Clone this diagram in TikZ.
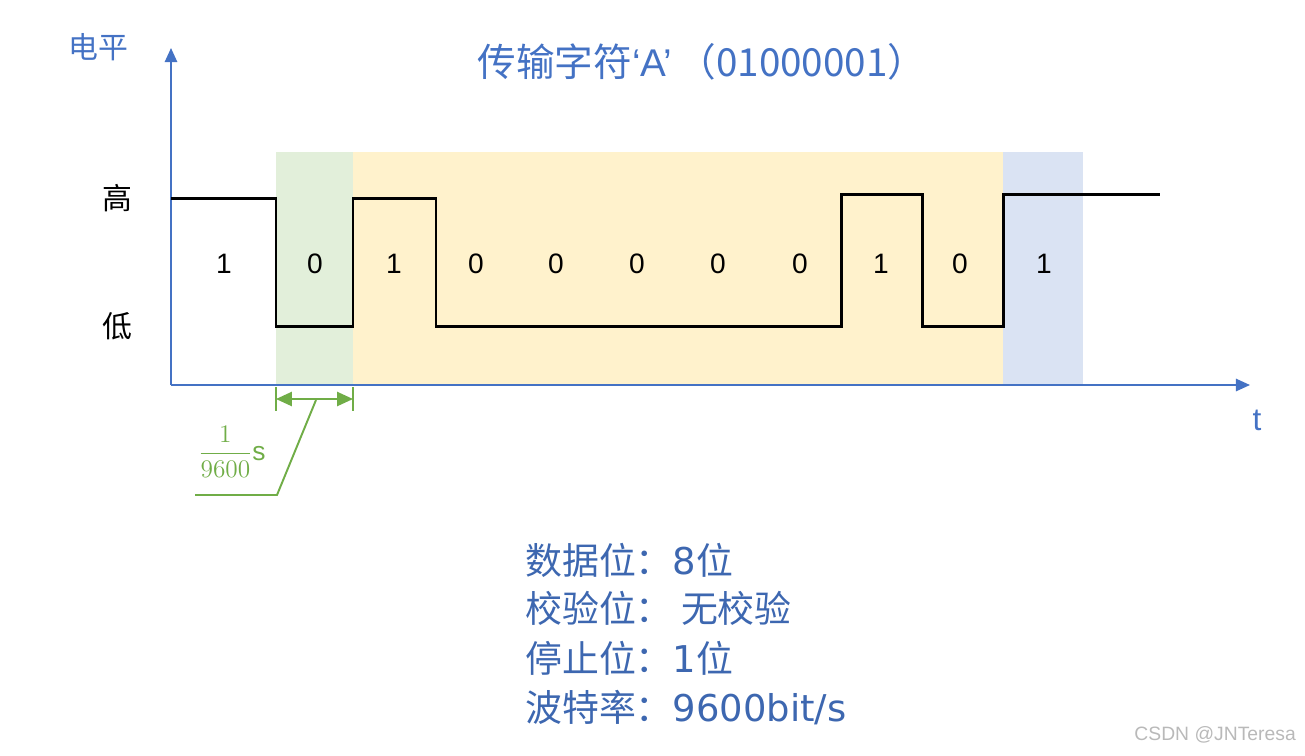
\documentclass[tikz,border=0pt]{standalone}
\usepackage{fontspec}
\setmainfont{Liberation Sans}
\newfontfamily\cjk{Noto Sans CJK SC}
\newfontfamily\latinwide{DejaVu Sans}
\usetikzlibrary{arrows.meta}
\definecolor{axisblue}{HTML}{4472C4}
\definecolor{startgreen}{HTML}{E2EFDA}
\definecolor{datayellow}{HTML}{FFF2CC}
\definecolor{stopblue}{HTML}{DAE3F3}
\definecolor{dimgreen}{HTML}{70AD47}

\tikzset{
  axis/.style={axisblue, line width=1.1pt, -{Triangle[length=8pt, width=7pt]}},
  wave/.style={black, line width=1.7pt},
  dimline/.style={dimgreen, line width=1.1pt},
  bitlabel/.style={font=\fontsize{16}{18}\selectfont},
  levellabel/.style={font=\cjk\fontsize{17}{20}\selectfont},
  infoline/.style={font=\cjk\fontsize{21}{24}\selectfont, color=axisblue!90!black, anchor=west},
}

\begin{document}
\begin{tikzpicture}[x=0.02cm, y=-0.02cm]
  \useasboundingbox (0,0) rectangle (1305,755);

  %% Start / data / stop bit bands
  \fill[startgreen] (276,152) rectangle (353,385);
  \fill[datayellow] (353,152) rectangle (1003,385);
  \fill[stopblue]   (1003,152) rectangle (1083,385);

  %% Axes
  \coordinate (origin) at (171,385);
  \coordinate (ytip) at (171,48);
  \coordinate (xtip) at (1250,385);
  \draw[axis] (origin) -- (ytip);
  \draw[axis] (origin) -- (xtip);
  \node[font=\cjk\fontsize{17}{20}\selectfont, axisblue] (level) at (98,47) {电平};
  \node[font=\fontsize{18}{20}\selectfont, axisblue] (time) at (1257,420) {t};
  \node[levellabel] (high) at (117,198) {高};
  \node[levellabel] (low) at (117,326) {低};

  %% Title
  \node[font=\cjk\fontsize{22}{25}\selectfont, axisblue] (title) at (702,62)
    {传输字符{\rmfamily‘A’}\hspace{3pt}（01000001）};

  %% Signal: idle high, start bit, data 10000010 (LSB first), stop bit
  \draw[wave] (171,198) -| (276,326) -| (353,198) -| (436,326)
    -| (841,194) -| (922,326) -| (1003,194) -- (1160,194);

  %% Bit values
  \foreach \x/\b [count=\i] in {224/1, 315/0, 394/1, 476/0, 556/0, 637/0,
                                 718/0, 800/0, 881/1, 960/0, 1044/1} {
    \node[bitlabel] (bit\i) at (\x,264) {\b};
  }

  %% One bit period
  \coordinate (dimleft) at (276,399);
  \coordinate (dimright) at (353,399);
  \coordinate (dimmid) at (316,400);
  \coordinate (leadbend) at (277,495);
  \coordinate (leadend) at (195,495);
  \draw[dimline] (276,387) -- (276,411);
  \draw[dimline] (353,387) -- (353,411);
  \draw[dimline, {Triangle[length=9pt, width=8pt]}-{Triangle[length=9pt, width=8pt]}]
    (dimleft) -- (dimright);
  \draw[dimline] (dimmid) -- (leadbend) -- (leadend);
  \node[dimgreen, font=\fontsize{15}{17}\selectfont] (period) at (232,452)
    {$\displaystyle\frac{1}{9600}$s};

  %% Frame settings
  \node[infoline] (databits) at (519,560) {数据位：{\latinwide 8}位};
  \node[infoline] (parity)   at (519,608) {校验位： 无校验};
  \node[infoline] (stopbits) at (519,658) {停止位：{\latinwide 1}位};
  \node[infoline] (baud)     at (519,708) {波特率：{\latinwide 9600bit/s}};

  \node[gray!55, font=\fontsize{11}{13}\selectfont, anchor=east] (mark) at (1302,735)
    {CSDN @JNTeresa};
\end{tikzpicture}
\end{document}
